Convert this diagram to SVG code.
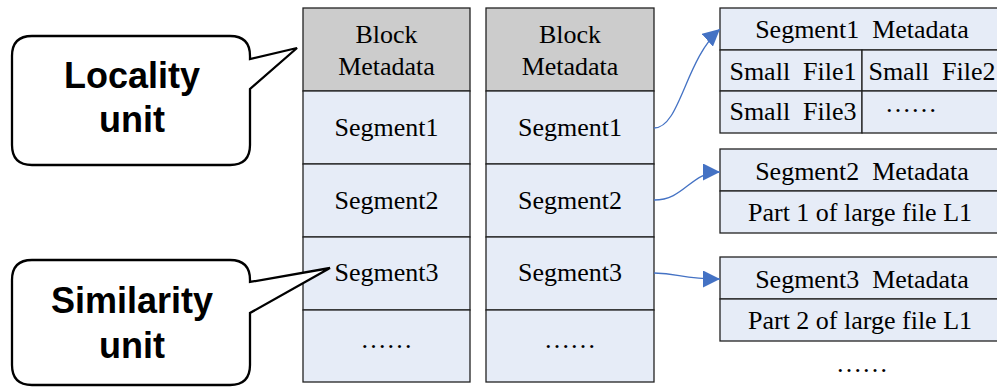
<svg xmlns="http://www.w3.org/2000/svg" width="997" height="388" viewBox="0 0 997 388">
<style>
  .cell { fill: #E6ECF7; stroke: #222; stroke-width: 1.3; }
  .head { fill: #CCCCCC; stroke: #222; stroke-width: 1.3; }
  .t { font-family: "Liberation Serif", "Times New Roman", serif; font-size: 26px; fill: #000; text-anchor: middle; white-space: pre; }
  .call { fill: #fff; stroke: #000; stroke-width: 2.3; stroke-linejoin: miter; }
  .ct { font-family: "Liberation Sans", Arial, sans-serif; font-size: 36px; font-weight: bold; fill: #000; text-anchor: middle; }
  .link { fill: none; stroke: #4472C4; stroke-width: 1.3; }
</style>
<defs>
  <marker id="arr" viewBox="0 0 10 10" refX="10" refY="5" markerWidth="17" markerHeight="17" markerUnits="userSpaceOnUse" orient="auto">
    <path d="M0,0 L10,5 L0,10 z" fill="#4472C4"/>
  </marker>
</defs>

<!-- block 1 -->
<g id="block1">
  <rect class="head" x="303" y="8" width="167" height="83"/>
  <rect class="cell" x="303" y="91" width="167" height="73"/>
  <rect class="cell" x="303" y="164" width="167" height="73"/>
  <rect class="cell" x="303" y="237" width="167" height="73"/>
  <rect class="cell" x="303" y="310" width="167" height="72"/>
  <text class="t" x="386.5" y="43">Block</text>
  <text class="t" x="386.5" y="75">Metadata</text>
  <text class="t" x="386.5" y="136">Segment1</text>
  <text class="t" x="386.5" y="209">Segment2</text>
  <text class="t" x="386.5" y="281">Segment3</text>
  <text class="t" x="386.5" y="348">……</text>
</g>

<!-- block 2 -->
<g id="block2">
  <rect class="head" x="486" y="8" width="168" height="83"/>
  <rect class="cell" x="486" y="91" width="168" height="73"/>
  <rect class="cell" x="486" y="164" width="168" height="73"/>
  <rect class="cell" x="486" y="237" width="168" height="73"/>
  <rect class="cell" x="486" y="310" width="168" height="72"/>
  <text class="t" x="570" y="43">Block</text>
  <text class="t" x="570" y="75">Metadata</text>
  <text class="t" x="570" y="136">Segment1</text>
  <text class="t" x="570" y="209">Segment2</text>
  <text class="t" x="570" y="281">Segment3</text>
  <text class="t" x="570" y="348">……</text>
</g>

<!-- segment 1 contents -->
<g id="seg1">
  <rect class="cell" x="720" y="8" width="290" height="42"/>
  <rect class="cell" x="720" y="50" width="142" height="41"/>
  <rect class="cell" x="862" y="50" width="148" height="41"/>
  <rect class="cell" x="720" y="91" width="142" height="42"/>
  <rect class="cell" x="862" y="91" width="148" height="42"/>
  <text class="t" x="862" y="38" xml:space="preserve">Segment1  Metadata</text>
  <text class="t" x="793" y="80" xml:space="preserve">Small  File1</text>
  <text class="t" x="932" y="80" xml:space="preserve">Small  File2</text>
  <text class="t" x="793" y="120" xml:space="preserve">Small  File3</text>
  <text class="t" x="911" y="112">……</text>
</g>

<!-- segment 2 contents -->
<g id="seg2">
  <rect class="cell" x="720" y="149" width="290" height="42"/>
  <rect class="cell" x="720" y="191" width="290" height="42"/>
  <text class="t" x="862" y="180" xml:space="preserve">Segment2  Metadata</text>
  <text class="t" x="860" y="221">Part 1 of large file L1</text>
</g>

<!-- segment 3 contents -->
<g id="seg3">
  <rect class="cell" x="720" y="257" width="290" height="42"/>
  <rect class="cell" x="720" y="299" width="290" height="42"/>
  <text class="t" x="862" y="288" xml:space="preserve">Segment3  Metadata</text>
  <text class="t" x="860" y="329">Part 2 of large file L1</text>
  <text class="t" x="862" y="372">……</text>
</g>

<!-- callouts -->
<g id="callout-locality">
  <path class="call" d="M32,36 H230 Q250,36 250,56 V59 L297,48 L250,89 V145 Q250,165 230,165 H32 Q12,165 12,145 V56 Q12,36 32,36 Z"/>
  <text class="ct" x="132" y="88">Locality</text>
  <text class="ct" x="132" y="132">unit</text>
</g>
<g id="callout-similarity">
  <path class="call" d="M32,260 H230 Q250,260 250,280 V282 L330,268 L250,313 V365 Q250,385 230,385 H32 Q12,385 12,365 V280 Q12,260 32,260 Z"/>
  <text class="ct" x="132" y="313">Similarity</text>
  <text class="ct" x="132" y="358">unit</text>
</g>

<!-- connectors -->
<g id="connectors">
  <path class="link" marker-end="url(#arr)" d="M654,128 C680,128 685,60 720,29"/>
  <path class="link" marker-end="url(#arr)" d="M654,200 C685,200 690,172 720,172"/>
  <path class="link" marker-end="url(#arr)" d="M654,273 C680,273 680,279 720,279"/>
</g>
</svg>
